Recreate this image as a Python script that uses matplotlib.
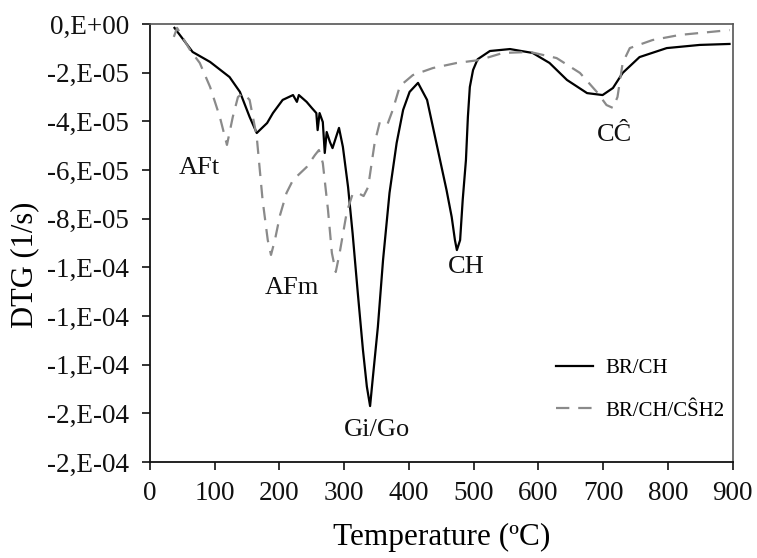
import matplotlib
matplotlib.use("Agg")
import matplotlib.pyplot as plt
from matplotlib.ticker import MultipleLocator, FuncFormatter
import numpy as np

plt.rcParams['font.family'] = ['Liberation Serif', 'DejaVu Serif']

# BR/CH  (temperature in C, DTG in 1e-5 1/s)
temp_ref = [38, 66, 93, 123, 139, 154, 165, 181, 190, 205, 221, 227, 230, 242, 250, 257,
            259, 262, 267, 270, 273, 278, 282, 292, 298, 306, 313, 321, 329, 335, 340, 344,
            352, 360, 370, 381, 391, 401, 414, 428, 437, 448, 458, 466, 471, 474, 479, 483,
            488, 491, 494, 499, 506, 525, 556, 591, 617, 644, 675, 699, 715, 730, 756, 798,
            849, 895]
dtg_ref = [-0.16, -1.15, -1.56, -2.18, -2.79, -3.82, -4.48, -4.07, -3.66, -3.12, -2.92, -3.20,
           -2.92, -3.20, -3.45, -3.66, -4.36, -3.66, -4.03, -5.30, -4.44, -4.85, -5.10, -4.27,
           -5.05, -6.70, -8.60, -11.05, -13.4, -14.9, -15.7, -14.6, -12.45, -9.70, -6.94,
           -4.89, -3.53, -2.79, -2.42, -3.12, -4.23, -5.59, -6.82, -7.93, -8.88, -9.29, -8.88,
           -7.23, -5.59, -3.82, -2.59, -1.89, -1.45, -1.11, -1.03, -1.19, -1.60, -2.30, -2.84,
           -2.92, -2.63, -2.01, -1.36, -0.99, -0.86, -0.82]

# BR/CH/CSH2
temp_gyp = [37, 42, 62, 77, 93, 108, 119, 128, 136, 144, 154, 165, 174, 182, 187, 193, 201,
            211, 221, 242, 255, 261, 267, 275, 281, 287, 293, 304, 313, 321, 330, 337, 347,
            355, 363, 367, 375, 386, 406, 437, 474, 509, 545, 587, 628, 664, 690, 705, 715,
            722, 730, 741, 776, 818, 895]
dtg_gyp = [-0.53, -0.16, -1.07, -1.60, -2.59, -3.82, -4.97, -3.82, -3.00, -2.84, -3.12, -4.64,
           -7.23, -8.88, -9.49, -8.88, -7.85, -6.94, -6.41, -5.88, -5.38, -5.18, -5.71, -7.64,
           -9.41, -10.19, -9.41, -7.73, -6.99, -6.94, -7.07, -6.70, -4.89, -4.03, -4.11, -4.11,
           -3.53, -2.55, -2.10, -1.81, -1.60, -1.48, -1.19, -1.15, -1.40, -2.01, -2.79, -3.33,
           -3.45, -3.00, -1.60, -0.99, -0.66, -0.45, -0.25]

peak_labels = ['AFt', 'AFm', 'Gi/Go', 'CH', 'C\u0108']
peak_temps = [77, 219, 350, 489, 718]
peak_dtg = [-5.9, -10.85, -16.7, -10.0, -4.56]

scale = 1e-5

fig = plt.figure(figsize=(7.57, 5.58), dpi=100)
ax = fig.add_axes([0.198, 0.172, 0.770, 0.785])

ax.plot(temp_ref, np.array(dtg_ref) * scale, color='black', lw=1.6, label='BR/CH')
ax.plot(temp_gyp, np.array(dtg_gyp) * scale, color='#8a8a8a', lw=1.6,
        dashes=(6, 4), label='BR/CH/C\u015cH2')

for lab, t, v in zip(peak_labels, peak_temps, peak_dtg):
    ax.text(t, v * scale, lab, ha='center', va='center', fontsize=19, color='#111111')

ax.set_xlim(0, 900)
ax.set_ylim(-1.8e-4, 0)
ax.xaxis.set_major_locator(MultipleLocator(100))
ax.yaxis.set_major_locator(MultipleLocator(2e-5))
ax.yaxis.set_major_formatter(FuncFormatter(lambda v, p: f"{v:.0E}".replace('E', ',E')))

ax.tick_params(direction='out', length=6, width=1.2, colors='#111111')
ax.tick_params(axis='y', labelsize=19.5, pad=9)
ax.tick_params(axis='x', labelsize=19.5, pad=8)
for side in ['left', 'bottom']:
    ax.spines[side].set_linewidth(1.3)
    ax.spines[side].set_color('#111111')
for side in ['top', 'right']:
    ax.spines[side].set_linewidth(1.2)
    ax.spines[side].set_color('#555555')

ax.set_xlabel('Temperature (\u00baC)', fontsize=22.5, labelpad=12)
ax.set_ylabel('DTG (1/s)', fontsize=22)
ax.yaxis.set_label_coords(-0.19, 0.45)

ax.legend(loc='center left', bbox_to_anchor=(0.665, 0.165), frameon=False, fontsize=15,
          handlelength=1.75, handletextpad=0.6, labelspacing=1.1)

plt.savefig('out.png')
